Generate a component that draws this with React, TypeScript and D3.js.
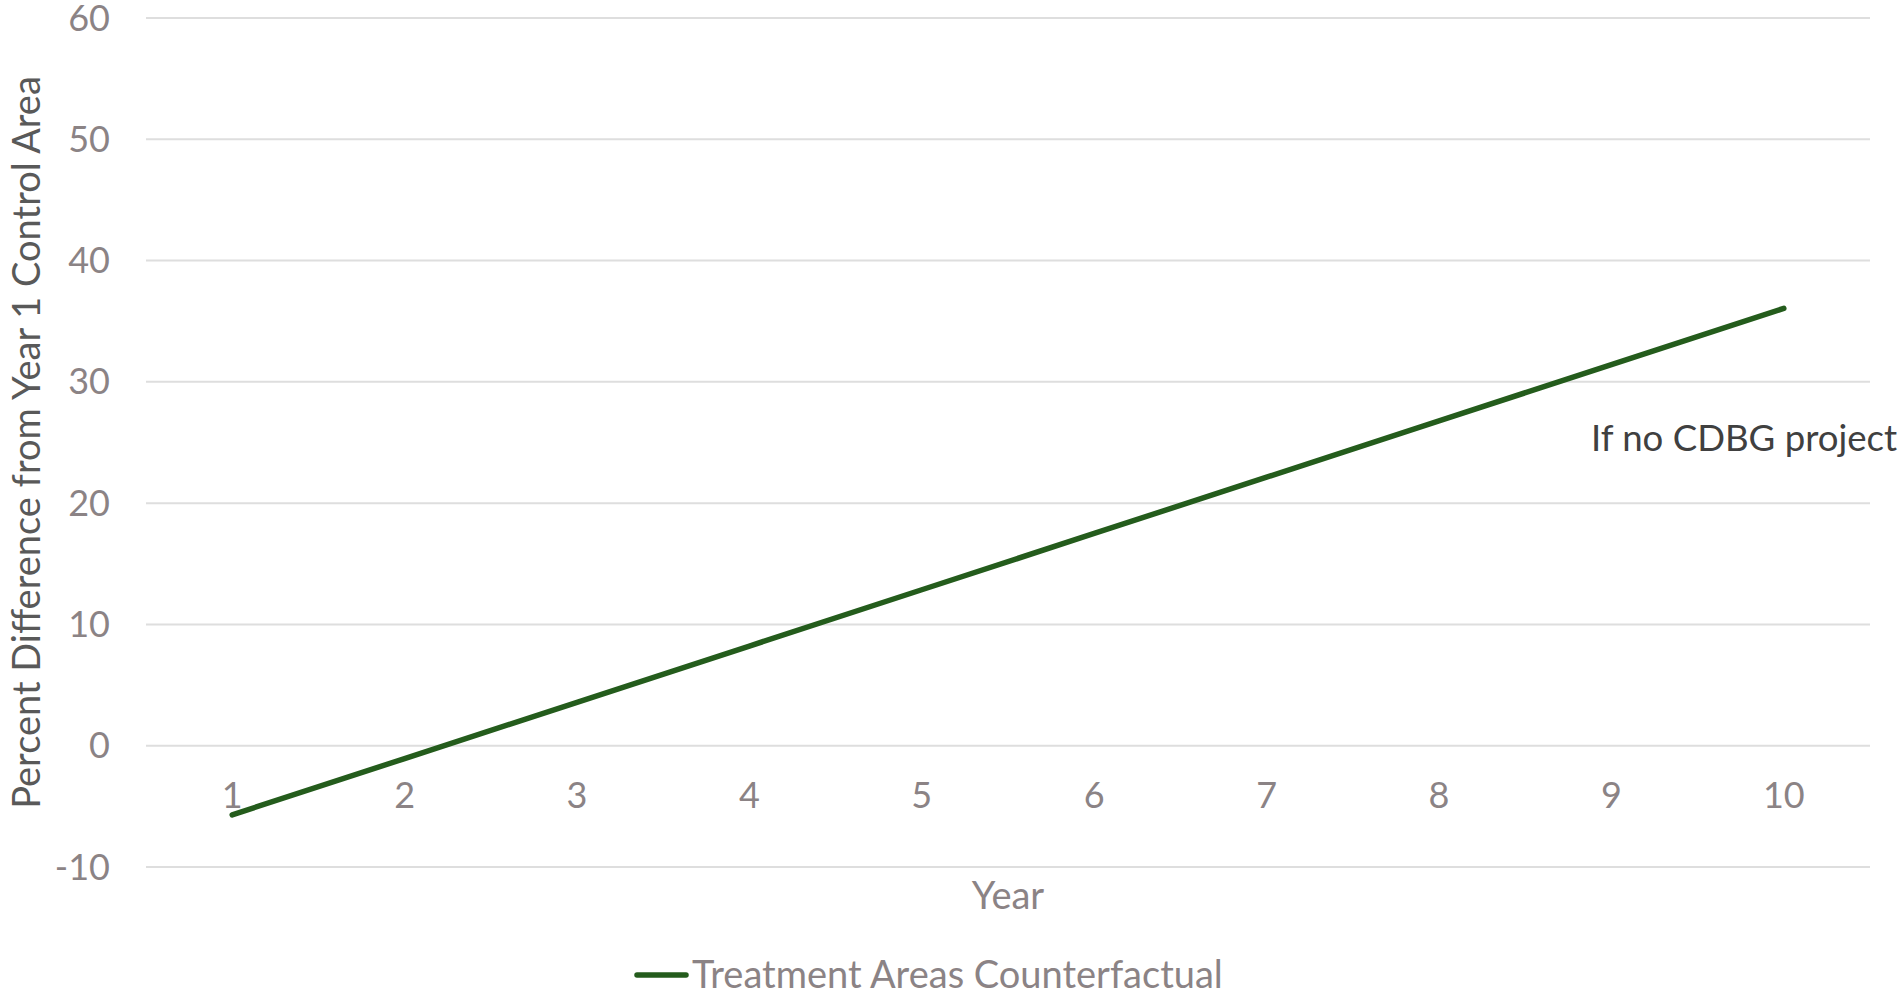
import React from "react";
import * as d3 from "d3";

const years: string[] = ["1", "2", "3", "4", "5", "6", "7", "8", "9", "10"];
const counterfactual: number[] = [-5.7, -1.06, 3.58, 8.22, 12.86, 17.5, 22.14, 26.78, 31.42, 36.06];
const yTicks: number[] = [-10, 0, 10, 20, 30, 40, 50, 60];
const seriesName = "Treatment Areas Counterfactual";
const annotation = "If no CDBG project";
const yTitle = "Percent Difference from Year 1 Control Area";
const xTitle = "Year";

const W = 1901;
const H = 995;
const FONT = "Lato, 'Open Sans', sans-serif";

export default function App() {
  const left = 146;
  const right = 1870;
  const top = 18;
  const bottom = 867;

  const x = d3.scaleBand<string>().domain(years).range([left, right]).padding(0);
  const y = d3.scaleLinear().domain([-10, 60]).range([bottom, top]);
  const cx = (d: string) => (x(d) as number) + x.bandwidth() / 2;

  const line = d3
    .line<number>()
    .x((_, i) => cx(years[i]))
    .y((v) => y(v));

  const tickColor = "#8b8385";
  const green = "#245c1c";

  return (
    <svg
      width={W}
      height={H}
      style={{ position: "absolute", left: 0, top: 0, background: "#fff" }}
      fontFamily={FONT}
    >
      {yTicks.map((t) => (
        <g key={t}>
          <line x1={left} x2={right} y1={y(t)} y2={y(t)} stroke="#dedede" strokeWidth={2} />
          <text
            x={110}
            y={y(t)}
            dy="0.35em"
            textAnchor="end"
            fontSize={36}
            fill={tickColor}
          >
            {t}
          </text>
        </g>
      ))}
      {years.map((yr) => (
        <text key={yr} x={cx(yr)} y={808} textAnchor="middle" fontSize={36} fill={tickColor}>
          {yr}
        </text>
      ))}
      <path
        d={line(counterfactual) || ""}
        fill="none"
        stroke={green}
        strokeWidth={5.5}
        strokeLinecap="round"
        strokeLinejoin="round"
      />
      <text x={1591} y={451} fontSize={36.6} fill="#404040">
        {annotation}
      </text>
      <text
        transform={`translate(40, ${(top + bottom) / 2}) rotate(-90)`}
        textAnchor="middle"
        fontSize={38}
        fill="#595959"
      >
        {yTitle}
      </text>
      <text x={(left + right) / 2} y={909} textAnchor="middle" fontSize={38} fill={tickColor}>
        {xTitle}
      </text>
      <line x1={637} x2={686} y1={975} y2={975} stroke={green} strokeWidth={5.5} strokeLinecap="round" />
      <text x={692} y={988} fontSize={38} fill={tickColor}>
        {seriesName}
      </text>
    </svg>
  );
}
